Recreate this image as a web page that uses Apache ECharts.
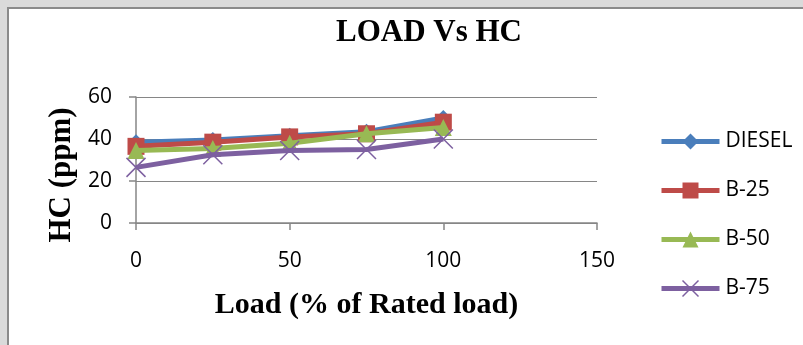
<!DOCTYPE html>
<html>
<head>
<meta charset="utf-8">
<script src="https://cdn.jsdelivr.net/npm/echarts@6/dist/echarts.min.js"></script>
<style>html,body{margin:0;padding:0;background:#fff}#c{width:803px;height:345px}</style>
</head>
<body>
<div id="c"></div>
<script>
const loads = [0, 25, 50, 75, 100];
const seriesNames = ['DIESEL', 'B-25', 'B-50', 'B-75'];
const diesel = [38.5, 39.5, 41.5, 43.5, 50];
const b25 = [36.5, 38.5, 41, 42.5, 48];
const b50 = [34.5, 35.5, 38, 42.5, 45.5];
const b75 = [26.5, 32.5, 34.5, 35, 40];
const xTicks = [0, 50, 100, 150];
const yTicks = [0, 20, 40, 60];

const colors = ['#4a7ebb', '#be4b48', '#98b954', '#7d60a0'];
const symbols = ['diamond', 'rect', 'triangle', 'path://M0,0L10,10M10,0L0,10'];
const sizes = [16, 17, 17, 19];
const allData = [diesel, b25, b50, b75];

const chart = echarts.init(document.getElementById('c'), null, {renderer: 'canvas'});
const series = seriesNames.map((n, i) => ({
  name: n,
  type: 'line',
  data: loads.map((x, j) => [x, allData[i][j]]),
  symbol: symbols[i],
  symbolSize: sizes[i],
  showAllSymbol: true,
  lineStyle: {color: colors[i], width: 5},
  itemStyle: i === 3
    ? {color: 'rgba(0,0,0,0)', borderColor: colors[i], borderWidth: 1.5}
    : {color: colors[i], borderColor: colors[i], borderWidth: 0},
  emphasis: {disabled: true},
  z: 2 + i
}));

const legendData = seriesNames.map((n, i) => ({
  name: n,
  itemStyle: i === 3
    ? {color: 'rgba(0,0,0,0)', borderColor: colors[i], borderWidth: 1.5}
    : {color: colors[i], borderColor: colors[i], borderWidth: 0},
  lineStyle: {color: colors[i], width: 5}
}));

chart.setOption({
  animation: false,
  backgroundColor: '#fff',
  graphic: [
    {type: 'rect', shape: {x: 0, y: 0, width: 803, height: 345}, style: {fill: '#dadada'}, z: -10, silent: true},
    {type: 'rect', shape: {x: 8, y: 8, width: 830, height: 360}, style: {fill: '#ffffff', stroke: '#8a8a8a', lineWidth: 2}, z: -9, silent: true}
  ],
  title: {
    text: 'LOAD Vs HC',
    left: 424, top: 12, textAlign: 'center',
    textStyle: {fontFamily: 'Liberation Serif', fontWeight: 'bold', fontSize: 31, color: '#000'}
  },
  legend: {
    orient: 'vertical',
    left: 654, top: 126,
    itemWidth: 58, itemHeight: 20, itemGap: 28,
    data: legendData,
    textStyle: {fontFamily: 'Open Sans', fontSize: 21, color: '#000', padding: [0, 0, 0, 1]}
  },
  grid: {left: 136, right: 206, top: 97, bottom: 122, containLabel: false},
  xAxis: {
    type: 'value', min: 0, max: 150, interval: 50,
    name: 'Load (% of Rated load)', nameLocation: 'middle', nameGap: 67,
    nameTextStyle: {fontFamily: 'Liberation Serif', fontWeight: 'bold', fontSize: 30, color: '#000'},
    axisLine: {show: true, lineStyle: {color: '#868686', width: 1.5}},
    axisTick: {show: true, length: 7, lineStyle: {color: '#868686', width: 1.5}},
    axisLabel: {fontFamily: 'Open Sans', fontSize: 21, color: '#000', margin: 28,
      formatter: v => xTicks.includes(v) ? String(v) : ''},
    splitLine: {show: false}
  },
  yAxis: {
    type: 'value', min: 0, max: 60, interval: 20,
    name: 'HC (ppm)', nameLocation: 'middle', nameGap: 58,
    nameTextStyle: {fontFamily: 'Liberation Serif', fontWeight: 'bold', fontSize: 31, color: '#000', padding: [0, 30, 0, 0]},
    axisLine: {show: true, lineStyle: {color: '#868686', width: 1.5}},
    axisTick: {show: true, length: 7, lineStyle: {color: '#868686', width: 1.5}},
    axisLabel: {fontFamily: 'Open Sans', fontSize: 21, color: '#000', margin: 24,
      formatter: v => yTicks.includes(v) ? String(v) : ''},
    splitLine: {show: true, lineStyle: {color: '#868686', width: 1.2}}
  },
  series: series
});
</script>
</body>
</html>
